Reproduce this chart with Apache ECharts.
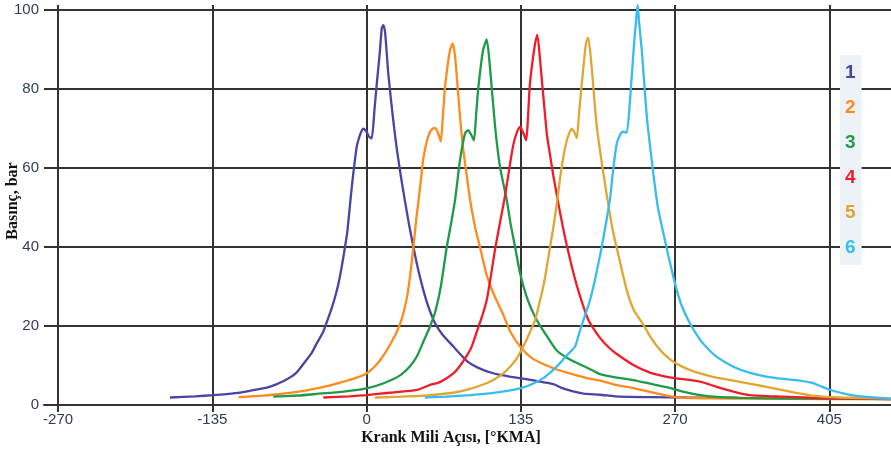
<!DOCTYPE html>
<html>
<head>
<meta charset="utf-8">
<script src="https://cdn.jsdelivr.net/npm/echarts@6/dist/echarts.min.js"></script>
<style>
html,body{margin:0;padding:0;background:#fff;}
#chart{width:891px;height:451px;}
</style>
</head>
<body>
<div id="chart"></div>
<script>
// ---- data (crank angle [°KMA], pressure [bar]) ----
const seriesNames = ['1', '2', '3', '4', '5', '6'];
const seriesColors = ['#4a44a2', '#ff8a1e', '#1e9a48', '#ee1d2a', '#e0a632', '#36bcee'];
const xTicks = [-270, -135, 0, 135, 270, 405];
const yTicks = [0, 20, 40, 60, 80, 100];

const curve1 = [[-172,1.9],[-150,2.2],[-134,2.5],[-115,3.0],[-102,3.6],[-85,4.6],[-73,6.0],[-62,8.0],[-55,10.5],[-48,13.2],[-43.6,15.6],[-38,18.5],[-34.8,21],[-30,25],[-26,29],[-23,33],[-20,38],[-17,43.5],[-13,55],[-8.6,65.4],[-5,69],[-2.8,70],[0,69.2],[2,68],[4.5,67.5],[7,75],[9,81.5],[11.5,89],[13.3,95.4],[14.7,96.2],[16.2,94.5],[19,84],[23,73],[26.4,65],[30,58],[33.7,51.5],[37,46],[41,40],[45,34.5],[49.7,29.1],[54,25],[60,20.7],[66,18],[76,14.8],[87.7,11.2],[95,9.8],[102,8.9],[110,8.1],[117,7.6],[125,7.2],[134,6.8],[145,6.3],[152,5.9],[163.5,5.3],[170,4.4],[180,3.5],[190,2.9],[204,2.6],[222,2.1],[250,2.0],[280,1.9],[325,1.8]];
const curve2 = [[-112,2.0],[-90,2.4],[-72.8,2.9],[-55,3.6],[-43.6,4.2],[-30,5.1],[-20.3,5.9],[-10,6.8],[0,8.0],[8,10],[14.7,12.5],[20,15],[26.4,18.5],[31,22],[35.2,27],[38,32.5],[41,40],[43.5,47],[46.8,55],[49.7,62.5],[52.5,66.5],[55.6,69.2],[58,70],[60,70.2],[63,68.5],[65,66.7],[67,74],[68.7,80.6],[73,89.9],[75.4,91.6],[77.5,88.2],[81.8,73],[84.5,65],[87.7,58],[90.6,52],[95,45],[99.3,40],[105,33],[111,28.3],[119.7,22.8],[126,18.5],[134.4,14.8],[145,11.8],[163.5,9.3],[178,8],[192.7,6.8],[204.3,6.2],[218,5.1],[233.5,4.3],[248,3.3],[262.6,2.4],[274,1.9],[300,1.7],[340,1.6],[400,1.5],[459,1.5]];
const curve3 = [[-81.6,2.1],[-60,2.4],[-43.6,2.8],[-20,3.4],[0,4.2],[15,5.5],[29.3,7.5],[38,9.8],[44,12.3],[49.7,16],[55,19.5],[60,23.5],[65,30],[70.2,40],[74,46],[77.5,52],[81.8,62],[86.2,68.8],[89,69.6],[91.5,68.5],[94,67],[96,74],[97.9,80.6],[102,89.9],[105.2,92.6],[108,85.6],[112.5,70.5],[116.8,60.3],[122.7,51.9],[126,46],[130,40],[134.4,33.3],[140,27.5],[146,23.2],[151,20.5],[157.7,17.5],[166.5,13.8],[178,11.5],[192.7,9.5],[204.3,7.8],[218,7],[233.5,6.3],[248,5.4],[262.6,4.5],[277,3.4],[292,2.5],[310,2.0],[350,1.7],[400,1.6],[459,1.5]];
const curve4 = [[-37.8,1.9],[-15,2.2],[0,2.5],[20,3.1],[44,3.8],[55.6,5.1],[64.3,5.8],[76,8],[82,10],[87.7,12.5],[92,14.8],[97.9,19.8],[101.5,22.8],[105.2,26.6],[109,33],[112.5,39.5],[117,46.5],[121.2,53],[125,60],[128.5,66],[131.5,69],[134.4,70.5],[137,69],[139.6,67],[143,81.4],[147.5,91.6],[149.5,93.7],[151.9,87.3],[157.7,68.8],[160.5,63.5],[163.5,58],[167.9,51],[171.5,45.5],[175.2,40.5],[181,33.5],[186.9,27.5],[194.2,21.5],[204.3,17],[213,14.3],[219,12.9],[233.5,10.1],[248,8.2],[260,7.3],[270,6.8],[292,5.9],[306.5,4.6],[321,3.4],[335.5,2.5],[364,2.1],[400,1.7],[459,1.5]];
const curve5 = [[7.4,1.9],[30,2.1],[46.8,2.3],[60,2.6],[76,3.1],[90,4.0],[105,5.5],[112,6.5],[119.7,8],[126,9.8],[131.5,11.8],[137.2,14.8],[142,17.8],[147.5,21.5],[151,25.5],[154.7,30],[157.5,34.5],[160.6,40],[163.5,45],[166.5,51],[170.8,60.3],[175.2,67],[179.6,70],[182,69],[184,67.6],[186,74],[188.4,81.4],[192,91.6],[194,93],[197,85.6],[201.5,70.5],[207.3,58.6],[212,50],[216,43.5],[220,38.5],[227.7,29.1],[234,24],[242.3,20.3],[249,17],[257,13.9],[263,12.2],[270,10.7],[280,9.2],[292,8],[305,7],[321,6.2],[335,5.4],[350,4.6],[363,3.8],[377,3.0],[392,2.3],[414,1.9],[459,1.6]];
const curve6 = [[51,1.9],[70,2.1],[90.6,2.5],[110,3.0],[134.4,4.2],[145,5.3],[154.7,6.8],[162,8.5],[169,10.5],[175,12.5],[182.5,14.8],[186.9,19],[191,22.5],[195.6,26.6],[200.5,32.5],[205.8,40],[209.5,46],[213,52],[216,60],[219,66.2],[222,68.5],[224.2,69.2],[227.7,69],[230.6,77.2],[233.5,89],[236,98],[237.3,101.3],[238.5,97],[240.9,89.9],[245.3,73],[251,58.6],[255,50],[259.8,43.5],[264,38],[268.5,32.5],[271.5,29.1],[276,25],[283,20.7],[292,16.5],[299,14.2],[306.5,12.2],[321,9.7],[335,8.2],[350,7.2],[365,6.6],[379,6.2],[390,5.6],[398,4.7],[406,3.8],[418,2.9],[429,2.3],[445,1.9],[459,1.6]];
const curves = [curve1, curve2, curve3, curve4, curve5, curve6];

const xTitle = 'Krank Mili Açısı, [°KMA]';
const yTitle = 'Basınç, bar';

// ---- chart ----
const chart = echarts.init(document.getElementById('chart'), null, {renderer: 'canvas'});
const gridColor = '#333333';
const labelColor = '#2f3b56';

chart.setOption({
  animation: false,
  backgroundColor: '#ffffff',
  grid: {left: 44, right: 0, top: 5, bottom: 46, containLabel: false},
  xAxis: {
    type: 'value',
    min: -282.3,
    max: 459,
    axisLine: {show: true, onZero: false, lineStyle: {color: gridColor, width: 2}},
    axisTick: {show: true, length: 7, customValues: xTicks, lineStyle: {color: gridColor, width: 2}},
    axisLabel: {customValues: xTicks, margin: 7, color: labelColor, fontSize: 15, fontFamily: 'Liberation Sans, Arial, sans-serif'},
    splitLine: {show: true, lineStyle: {color: gridColor, width: 2}}
  },
  yAxis: {
    type: 'value',
    min: 0,
    max: 101.3,
    axisLine: {show: false},
    axisTick: {show: true, length: 6, customValues: yTicks, lineStyle: {color: gridColor, width: 2}},
    axisLabel: {customValues: yTicks, margin: 5, color: labelColor, fontSize: 15, fontFamily: 'Liberation Sans, Arial, sans-serif'},
    splitLine: {show: true, lineStyle: {color: gridColor, width: 2}}
  },
  legend: {
    orient: 'vertical',
    left: 840,
    top: 55,
    icon: 'none',
    itemWidth: 0,
    itemHeight: 20,
    itemGap: 15,
    padding: [8, 6, 7, 0],
    backgroundColor: '#edf2f8',
    selectedMode: false,
    textStyle: {fontSize: 19, fontWeight: 'bold', lineHeight: 20, fontFamily: 'Liberation Sans, Arial, sans-serif'},
    data: seriesNames.map((n, i) => ({name: n, textStyle: {color: seriesColors[i]}}))
  },
  graphic: [
    {type: 'text', x: 451, y: 438, style: {text: xTitle, x: 0, y: 0, align: 'center', verticalAlign: 'middle', font: 'bold 16px "Liberation Serif", "Times New Roman", serif', fill: '#111'}},
    {type: 'text', rotation: Math.PI / 2, x: 13, y: 201, style: {text: yTitle, x: 0, y: 0, align: 'center', verticalAlign: 'middle', font: 'bold 16px "Liberation Serif", "Times New Roman", serif', fill: '#111'}}
  ],
  series: curves.map((c, i) => ({
    name: seriesNames[i],
    type: 'line',
    data: c,
    showSymbol: false,
    symbol: 'none',
    clip: false,
    smooth: 0.2,
    color: seriesColors[i],
    lineStyle: {width: 2.3, color: seriesColors[i]},
    z: 3
  }))
});
</script>
</body>
</html>
